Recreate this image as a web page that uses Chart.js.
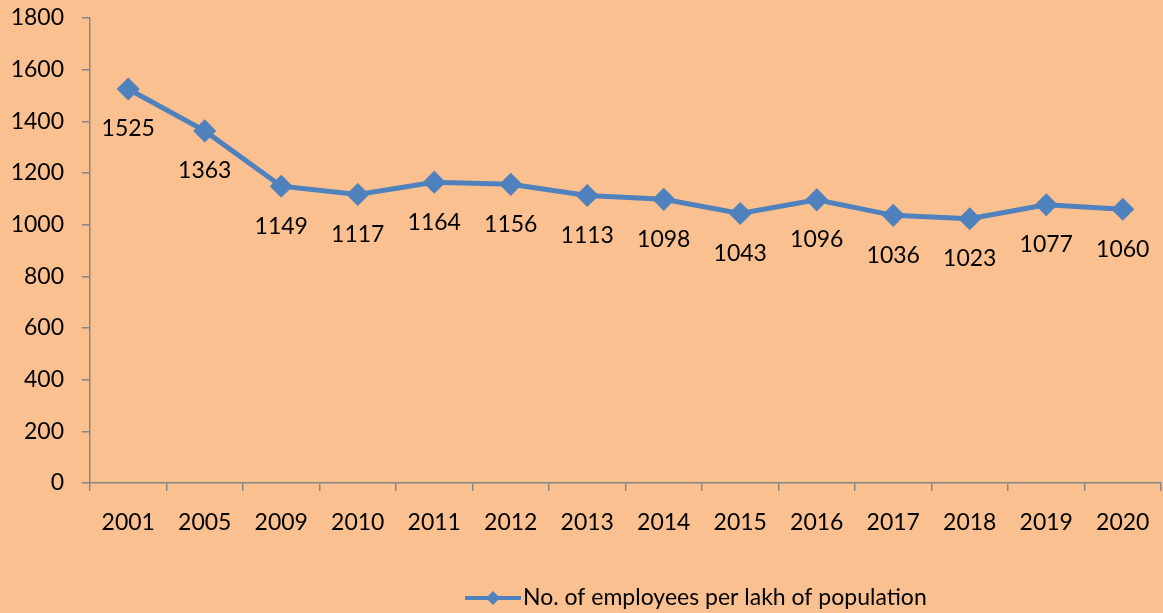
<!DOCTYPE html>
<html>
<head>
<meta charset="utf-8">
<script src="https://cdn.jsdelivr.net/npm/chart.js@4/dist/chart.umd.min.js"></script>
<style>
  html, body { margin: 0; padding: 0; background: #fac090; }
  #wrap { width: 1163px; height: 613px; }
</style>
</head>
<body>
<div id="wrap"><canvas id="lineChart"></canvas></div>
<script>
// Données du graphique
const years = ["2001", "2005", "2009", "2010", "2011", "2012", "2013", "2014", "2015", "2016", "2017", "2018", "2019", "2020"];
const employees = [1525, 1363, 1149, 1117, 1164, 1156, 1113, 1098, 1043, 1096, 1036, 1023, 1077, 1060];
const seriesName = "No. of employees per lakh of population";

const fontFamily = "Lato, 'Open Sans', sans-serif";
const fontSize = 23;
const blue = "#4f81bd";
const axisGrey = "#868686";

// Étiquettes de valeurs sous chaque point
const valueLabels = {
  id: "valueLabels",
  afterDatasetsDraw(chart) {
    const c = chart.ctx;
    const meta = chart.getDatasetMeta(0);
    c.save();
    c.font = fontSize + "px " + fontFamily;
    c.fillStyle = "#000";
    c.textAlign = "center";
    c.textBaseline = "middle";
    meta.data.forEach((pt, i) => {
      c.fillText(String(employees[i]), pt.x, pt.y + 40);
    });
    c.restore();
  },
};

// Légende dessinée à la main (ligne + losange)
const bottomLegend = {
  id: "bottomLegend",
  afterDraw(chart) {
    const c = chart.ctx;
    const y = 598;
    c.save();
    c.font = fontSize + "px " + fontFamily;
    const x0 = 465;
    const lineW = 56;
    c.strokeStyle = blue;
    c.lineWidth = 4;
    c.beginPath();
    c.moveTo(x0, y);
    c.lineTo(x0 + lineW, y);
    c.stroke();
    c.fillStyle = blue;
    c.beginPath();
    const cx = x0 + lineW / 2;
    c.moveTo(cx, y - 7);
    c.lineTo(cx + 7, y);
    c.lineTo(cx, y + 7);
    c.lineTo(cx - 7, y);
    c.closePath();
    c.fill();
    c.fillStyle = "#000";
    c.textBaseline = "middle";
    c.fillText(seriesName, x0 + lineW + 2, y);
    c.restore();
  },
};

new Chart(document.getElementById("lineChart"), {
  type: "line",
  data: {
    labels: years,
    datasets: [
      {
        label: seriesName,
        data: employees,
        borderColor: blue,
        backgroundColor: blue,
        borderWidth: 5,
        pointStyle: "rectRot",
        pointRadius: 8,
        pointHoverRadius: 8,
        tension: 0,
      },
    ],
  },
  options: {
    responsive: true,
    maintainAspectRatio: false,
    animation: false,
    layout: { padding: { top: 18, right: 2, bottom: 0, left: 0 } },
    plugins: {
      legend: { display: false },
      tooltip: { enabled: false },
    },
    scales: {
      x: {
        offset: true,
        afterFit: (s) => {
          s.height = 130;
          s.paddingLeft = 0;
          s.paddingRight = 0;
        },
        grid: {
          offset: true,
          drawOnChartArea: false,
          tickLength: 8,
          color: axisGrey,
          lineWidth: 1.5,
        },
        border: { color: axisGrey, width: 1.5 },
        ticks: {
          color: "#000",
          padding: 18,
          font: { family: fontFamily, size: fontSize },
          maxRotation: 0,
        },
      },
      y: {
        min: 0,
        max: 1800,
        afterFit: (s) => {
          s.width = 90;
          s.paddingTop = 0;
          s.paddingBottom = 0;
        },
        grid: {
          drawOnChartArea: false,
          tickLength: 8,
          color: axisGrey,
          lineWidth: 1.5,
        },
        border: { color: axisGrey, width: 1.5 },
        ticks: {
          stepSize: 200,
          color: "#000",
          padding: 18,
          font: { family: fontFamily, size: fontSize },
          callback: (v) => String(v),
        },
      },
    },
  },
  plugins: [
    {
      id: "stretchArea",
      // le graphique va jusqu'au bord droit comme l'original
      afterLayout(chart) {
        const x = chart.scales.x;
        if (x.right < chart.width - 2) {
          const extra = chart.width - 2 - x.right;
          x.right += extra;
          x.width += extra;
          chart.chartArea.right = x.right;
          chart.chartArea.width = chart.chartArea.right - chart.chartArea.left;
          x.configure();
        }
      },
    },
    valueLabels,
    bottomLegend,
  ],
});
</script>
</body>
</html>
